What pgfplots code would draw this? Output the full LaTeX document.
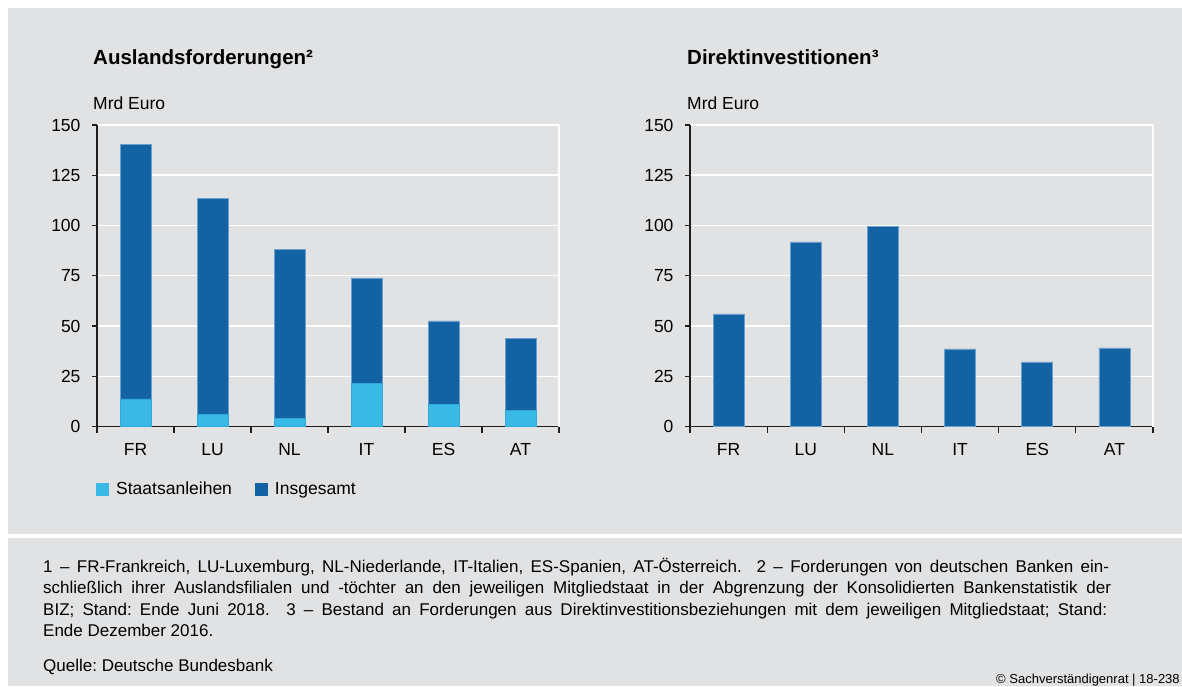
\documentclass[border=0pt]{standalone}
\usepackage{pgfplots}
\pgfplotsset{compat=1.18}
\usepackage{fontspec}
\setmainfont{Liberation Sans}
\frenchspacing
\definecolor{bggrey}{HTML}{E1E2E4}
\definecolor{darkblue}{HTML}{1363A4}
\definecolor{lightblue}{HTML}{3AB8E6}
\definecolor{edgeblue}{HTML}{6A9FCF}
\definecolor{axisblack}{HTML}{1E1E1E}
\newcommand{\tickfont}{\fontsize{17.5}{20}\selectfont}
\pgfplotsset{
  mybars/.style={
    scale only axis,
    height=301.5pt,
    xmin=-0.5, xmax=5.5, ymin=0, ymax=150,
    ytick={0,25,...,150},
    xtick={0,...,5},
    xticklabels={FR,LU,NL,IT,ES,AT},
    minor xtick={-0.5,0.5,...,5.5},
    axis lines=left,
    axis line style={-, line width=1.8pt, color=axisblack},
    tick align=outside,
    major x tick style={draw=none},
    major tick length=5pt,
    minor tick length=6pt,
    tick style={line width=1.2pt, color=axisblack},
    ymajorgrids,
    major grid style={white, line width=1.5pt},
    tick label style={font=\tickfont, text=black},
    /pgf/number format/assume math mode=true,
    yticklabel style={xshift=-8pt},
    xticklabel style={yshift=-8pt},
    ybar, bar width=31pt, bar shift=0pt,
    clip=false,
  }
}
\begin{document}
\begin{tikzpicture}[x=1pt,y=1pt]
\useasboundingbox (0pt,0pt) rectangle (1182pt,686pt);
\fill[white] (0pt,0pt) rectangle (1182pt,686pt);
\fill[bggrey] (8pt,152pt) rectangle (1182pt,678pt);
\fill[bggrey] (8pt,0pt) rectangle (1182pt,148pt);

% Left chart
\begin{axis}[mybars, width=462pt, at={(97pt,259.5pt)}, anchor=south west,
  legend columns=2,
  legend style={at={(0,0)}, anchor=west, xshift=-1pt, yshift=-63.2pt,
    draw=none, fill=none, inner sep=0pt, font=\tickfont,
    nodes={text height=13pt, text depth=4pt},
    /tikz/every odd column/.append style={column sep=5pt},
    /tikz/every even column/.append style={column sep=21pt}},
  legend image code/.code={\fill[#1,draw=none] (0pt,-6.5pt) rectangle (13pt,6.5pt);},
]
\addlegendimage{fill=lightblue}
\addlegendentry{Staatsanleihen}
\addlegendimage{fill=darkblue}
\addlegendentry{Insgesamt}
\addplot[forget plot, fill=darkblue, draw=edgeblue, line width=0.8pt] coordinates {
  (0,140.5) (1,113.4) (2,88.2) (3,73.9) (4,52.5) (5,43.6)};
\addplot[forget plot, fill=lightblue, draw=lightblue!80!darkblue, line width=0.8pt] coordinates {
  (0,13.7) (1,6.1) (2,4.1) (3,21.5) (4,10.9) (5,7.9)};
\draw[white, line width=2pt] (rel axis cs:1,0) -- (rel axis cs:1,1);
\end{axis}

% Right chart
\begin{axis}[mybars, width=463pt, at={(690pt,259.5pt)}, anchor=south west]
\addplot[fill=darkblue, draw=edgeblue, line width=0.8pt] coordinates {
  (0,56.0) (1,91.8) (2,99.6) (3,38.6) (4,32.1) (5,39.1)};
\draw[white, line width=2pt] (rel axis cs:1,0) -- (rel axis cs:1,1);
\end{axis}

% Titles
\node[anchor=base west, inner sep=0pt, font=\fontsize{20.5}{24}\selectfont\bfseries] at (93pt,621pt) {Auslandsforderungen²};
\node[anchor=base west, inner sep=0pt, font=\tickfont] at (93pt,576pt) {Mrd Euro};
\node[anchor=base west, inner sep=0pt, font=\fontsize{20.5}{24}\selectfont\bfseries] at (687pt,621pt) {Direktinvestitionen³};
\node[anchor=base west, inner sep=0pt, font=\tickfont] at (687pt,576pt) {Mrd Euro};

% Footnotes
\begin{scope}[every node/.style={anchor=base west, inner sep=0pt, font=\fontsize{17}{19}\selectfont}]
\node at (43pt,114pt) {\hbox to 1066pt{1 – FR-Frankreich, LU-Luxemburg, NL-Niederlande, IT-Italien, ES-Spanien, AT-Österreich.\ \ 2 – Forderungen von deutschen Banken ein-}};
\node at (43pt,93pt) {\hbox to 1068pt{schließlich ihrer Auslandsfilialen und -töchter an den jeweiligen Mitgliedstaat in der Abgrenzung der Konsolidierten Bankenstatistik der}};
\node at (43pt,71pt) {\hbox to 1064pt{BIZ; Stand: Ende Juni 2018.\ \ 3 – Bestand an Forderungen aus Direktinvestitionsbeziehungen mit dem jeweiligen Mitgliedstaat; Stand:}};
\node at (43pt,50pt) {Ende Dezember 2016.};
\node at (43pt,14.5pt) {Quelle: Deutsche Bundesbank};
\end{scope}
\node[anchor=base west, inner sep=0pt, font=\fontsize{13}{15}\selectfont] at (996pt,3pt) {© Sachverständigenrat | 18-238};
\end{tikzpicture}
\end{document}
